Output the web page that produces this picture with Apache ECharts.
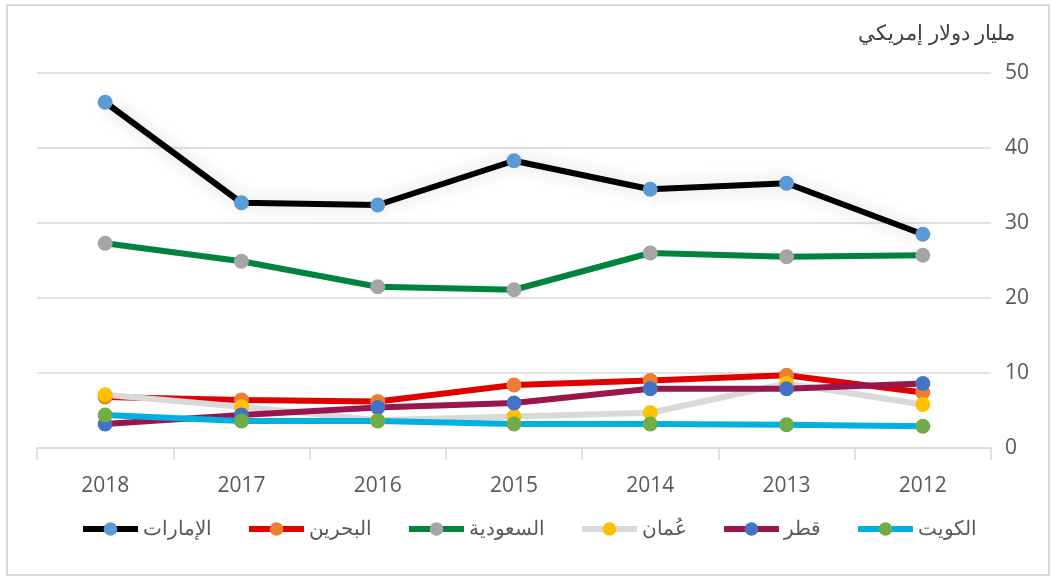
<!DOCTYPE html>
<html>
<head>
<meta charset="utf-8">
<script src="https://cdn.jsdelivr.net/npm/echarts@6/dist/echarts.min.js"></script>
<style>
  html, body { margin: 0; padding: 0; background: #fff; }
  #frame { position: absolute; left: 6px; top: 4px; width: 1044px; height: 572px; border: 2px solid #d9d9d9; box-sizing: border-box; }
  #myChart { width: 1057px; height: 581px; position: absolute; left: 0; top: 0; }
</style>
</head>
<body>
<div id="frame"></div>
<div id="myChart"></div>
<script>
// السنوات
const years = ['2018', '2017', '2016', '2015', '2014', '2013', '2012']
// القيم بالمليار دولار
const uae = [46.1, 32.7, 32.4, 38.3, 34.5, 35.3, 28.5]
const bahrain = [6.8, 6.4, 6.2, 8.4, 9.0, 9.7, 7.4]
const saudi = [27.3, 24.9, 21.5, 21.1, 26.0, 25.5, 25.7]
const oman = [7.1, 5.5, 3.7, 4.2, 4.7, 8.6, 5.8]
const qatar = [3.2, 4.4, 5.4, 6.0, 7.9, 7.9, 8.6]
const kuwait = [4.4, 3.6, 3.6, 3.2, 3.2, 3.1, 2.9]
const yTicks = [0, 10, 20, 30, 40, 50]

const font = '"Open Sans", "Noto Sans", sans-serif'

function line (name, data, lineColor, dotColor, glow) {
  const s = {
    name: name,
    type: 'line',
    data: data,
    symbol: 'circle',
    symbolSize: 15,
    color: dotColor,
    lineStyle: { color: lineColor, width: 6 },
    itemStyle: { color: dotColor, borderWidth: 0 },
    emphasis: { disabled: true },
    animation: false
  }
  if (glow) {
    s.lineStyle.shadowColor = 'rgba(0,0,0,0.18)'
    s.lineStyle.shadowBlur = 18
  }
  return s
}

const myChart = echarts.init(document.getElementById('myChart'))
myChart.setOption({
  backgroundColor: 'transparent',
  textStyle: { fontFamily: font },
  legend: {
    bottom: 37,
    left: 'center',
    itemWidth: 55,
    itemHeight: 17,
    itemGap: 34,
    lineStyle: { width: 6 },
    textStyle: { fontSize: 20, color: '#595959', fontFamily: font },
    data: ['الإمارات', 'البحرين', 'السعودية', 'عُمان', 'قطر', 'الكويت']
  },
  grid: { left: 37, right: 66, top: 73, bottom: 133 },
  xAxis: {
    type: 'category',
    data: years,
    boundaryGap: true,
    axisLine: { lineStyle: { color: '#d9d9d9', width: 1.5 } },
    axisTick: { show: true, length: 12, lineStyle: { color: '#d9d9d9', width: 1.5 } },
    axisLabel: { fontSize: 21, color: '#595959', margin: 28, fontFamily: font }
  },
  yAxis: {
    type: 'value',
    position: 'right',
    min: yTicks[0],
    max: yTicks[yTicks.length - 1],
    interval: 10,
    name: 'مليار دولار إمريكي',
    nameLocation: 'end',
    nameGap: 28,
    nameTextStyle: { fontSize: 21, color: '#404040', align: 'right', padding: [0, -24, 0, 0], fontFamily: font },
    axisLine: { show: false },
    axisTick: { show: false },
    axisLabel: { fontSize: 21, color: '#595959', margin: 14, fontFamily: font },
    splitLine: { lineStyle: { color: '#d9d9d9', width: 1.5 } }
  },
  series: [
    line('الإمارات', uae, '#000000', '#5b9bd5', true),
    line('البحرين', bahrain, '#e00000', '#ed7d31'),
    line('السعودية', saudi, '#00843d', '#a5a5a5'),
    line('عُمان', oman, '#d9d9d9', '#ffc000'),
    line('قطر', qatar, '#98164b', '#4472c4'),
    line('الكويت', kuwait, '#00b0e0', '#70ad47')
  ]
})
</script>
</body>
</html>
